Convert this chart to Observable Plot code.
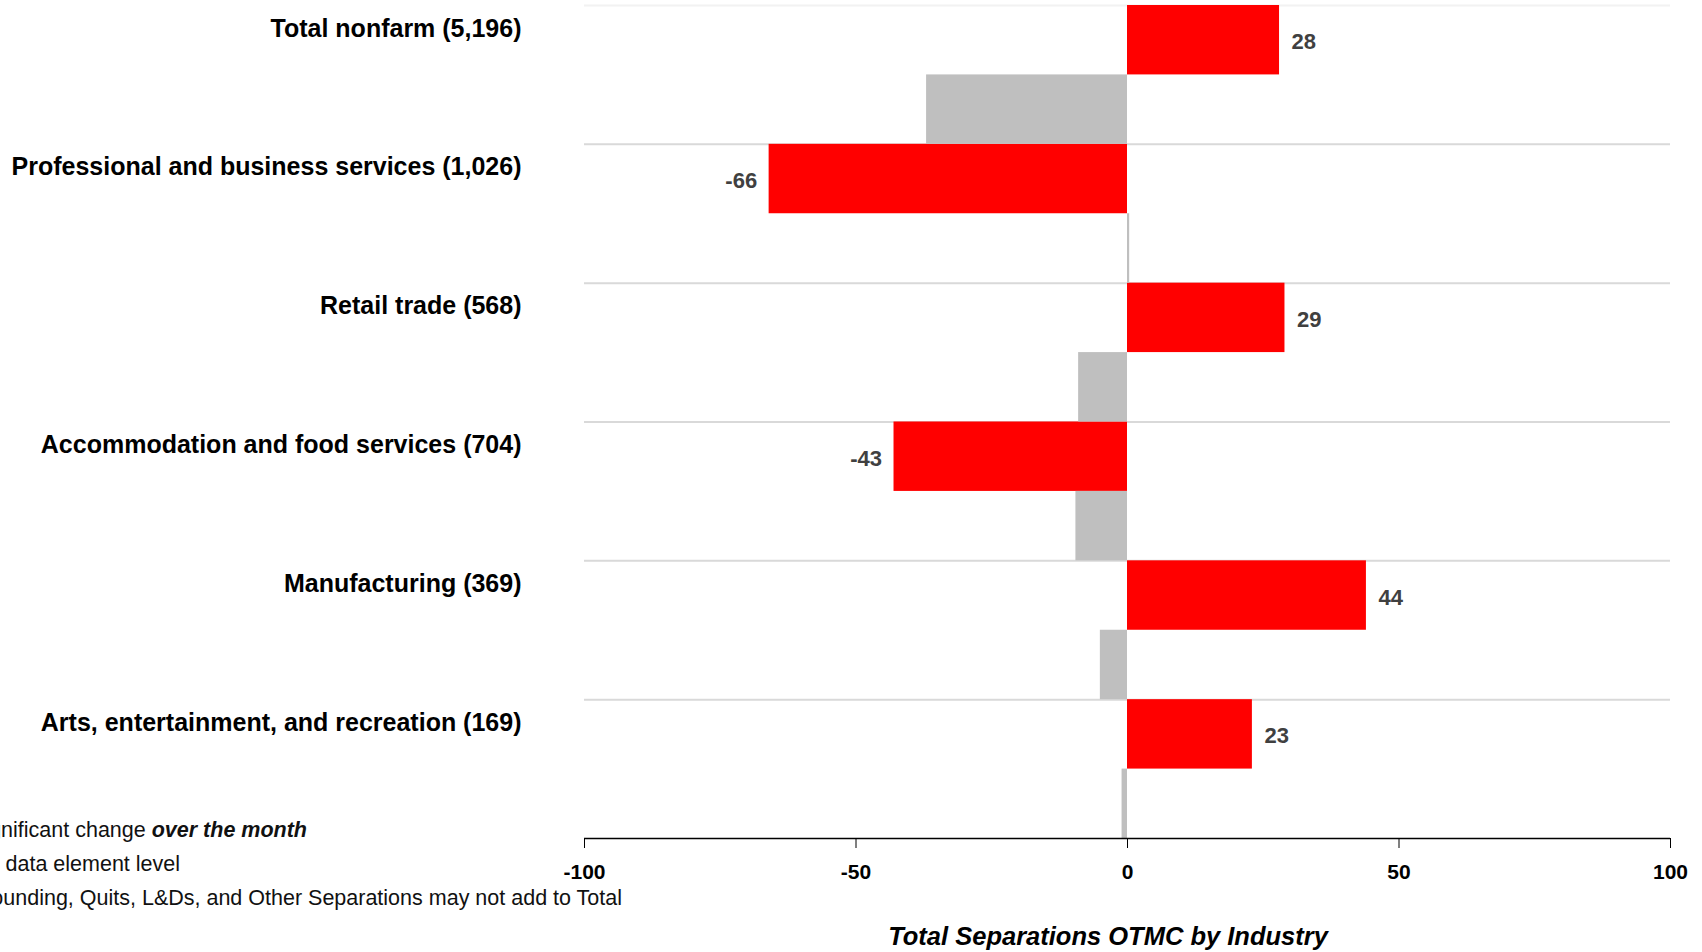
<!DOCTYPE html>
<html>
<head>
<meta charset="utf-8">
<script src="https://cdn.jsdelivr.net/npm/d3@7"></script>
<script src="https://cdn.jsdelivr.net/npm/@observablehq/plot@0.6"></script>
<style>
  html, body { margin: 0; padding: 0; background: #ffffff; }
  #wrap { position: relative; width: 1702px; height: 952px; overflow: hidden; background: #ffffff; }
  .note { position: absolute; white-space: nowrap; font-family: "Liberation Sans", Arial, sans-serif; font-size: 21.5px; color: #111; transform: translateY(-50%); text-align: right; }
  .title { position: absolute; white-space: nowrap; font-family: "Liberation Sans", Arial, sans-serif; font-weight: bold; font-style: italic; font-size: 25.5px; color: #000; transform: translate(-50%, -50%); }
</style>
</head>
<body>
<div id="wrap"></div>
<script>
// ---- data ----
const categories = [
  "Total nonfarm (5,196)",
  "Professional and business services (1,026)",
  "Retail trade (568)",
  "Accommodation and food services (704)",
  "Manufacturing (369)",
  "Arts, entertainment, and recreation (169)"
];
const currentValues = [28, -66, 29, -43, 44, 23];     // red bars (labelled)
const previousValues = [-37, 0.4, -9, -9.5, -5, -1];  // grey bars
const xTicks = [-100, -50, 0, 50, 100];
const titleText = "Total Separations OTMC by Industry";
const notes = [
  ["* Significant change ", "over the month"],
  ["(#) Total separations at the data element level", ""],
  ["Due to rounding, Quits, L&Ds, and Other Separations may not add to Total", ""]
];

// ---- layout ----
const W = 1702, H = 952;
const mT = 5, mB = 114, mL = 584, mR = 32;
const bw = (H - mT - mB) / categories.length;
const FONT = '"Liberation Sans", Arial, sans-serif';

const redData = categories.map((c, i) => ({cat: c, value: currentValues[i]}));
const greyData = categories.map((c, i) => ({cat: c, value: previousValues[i]}));

const chart = Plot.plot({
  width: W,
  height: H,
  marginTop: mT,
  marginBottom: mB,
  marginLeft: mL,
  marginRight: mR,
  style: {fontFamily: FONT, fontWeight: "bold", background: "#ffffff", color: "#000", overflow: "visible"},
  x: {domain: [-100, 100], axis: null},
  y: {domain: categories, padding: 0, round: false, axis: null},
  marks: [
    Plot.ruleY(categories.slice(1), {y: d => d, dy: -bw / 2, stroke: "#d9d9d9", strokeWidth: 2}),
    Plot.ruleY(categories.slice(0, 1), {y: d => d, dy: -bw / 2, stroke: "#f2f2f2", strokeWidth: 2}),
    Plot.barX(redData, {x: "value", y: "cat", fill: "#ff0000", insetBottom: bw / 2}),
    Plot.barX(greyData, {x: "value", y: "cat", fill: "#bfbfbf", insetTop: bw / 2}),
    Plot.text(redData.filter(d => d.value >= 0), {
      x: "value", y: "cat", text: d => String(d.value), dy: -bw / 4 + 2, dx: 12,
      textAnchor: "start", fill: "#404040", fontSize: 22
    }),
    Plot.text(redData.filter(d => d.value < 0), {
      x: "value", y: "cat", text: d => String(d.value), dy: -bw / 4 + 2, dx: -12,
      textAnchor: "end", fill: "#404040", fontSize: 22
    }),
    Plot.ruleY(categories.slice(-1), {y: d => d, dy: bw / 2, stroke: "#000", strokeWidth: 1.5}),
    Plot.axisX({ticks: xTicks, tickFormat: d => String(d), tickSize: 10, tickPadding: 16, fontSize: 21, stroke: "#000", fill: "#000", label: null}),
    Plot.axisY({tickSize: 0, tickPadding: 63, dy: -bw / 2 + 23, fontSize: 25, fill: "#000", label: null})
  ]
});

const wrap = document.getElementById("wrap");
wrap.appendChild(chart);

// footnotes (cut off at left edge, as in the reference)
const noteRight = [307, 180, 622];
const noteY = [830, 864, 898];
notes.forEach((n, i) => {
  const div = document.createElement("div");
  div.className = "note";
  div.style.right = (W - noteRight[i]) + "px";
  div.style.top = noteY[i] + "px";
  div.appendChild(document.createTextNode(n[0]));
  if (n[1]) {
    const b = document.createElement("span");
    b.style.fontWeight = "bold";
    b.style.fontStyle = "italic";
    b.textContent = n[1];
    div.appendChild(b);
  }
  wrap.appendChild(div);
});

const t = document.createElement("div");
t.className = "title";
t.style.left = "1108px";
t.style.top = "936px";
t.textContent = titleText;
wrap.appendChild(t);
</script>
</body>
</html>
